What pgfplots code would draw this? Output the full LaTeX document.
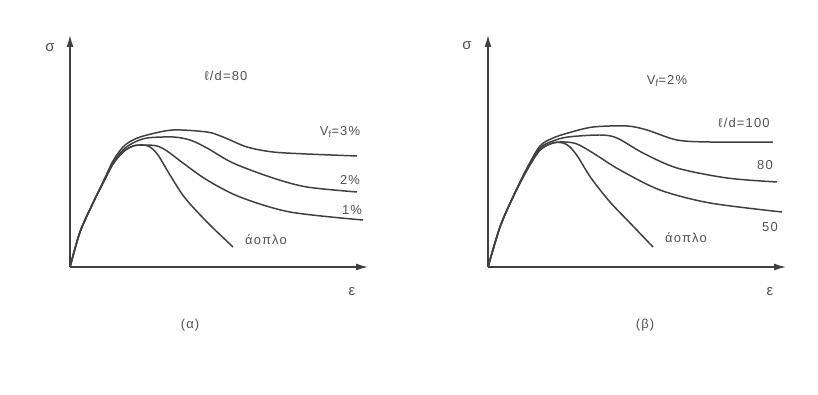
\documentclass[border=0pt]{standalone}
\usepackage{pgfplots}
\pgfplotsset{compat=1.18}
\usepackage{fontspec}
\setmainfont{Liberation Sans}
\newfontfamily\lab[LetterSpace=9]{Liberation Sans}
\usetikzlibrary{arrows.meta}
\definecolor{ink}{HTML}{404040}
\definecolor{txt}{HTML}{505050}
\pgfplotsset{
  panel/.style={
    scale only axis, width=298bp, height=232bp,
    xmin=0, xmax=298, ymin=0, ymax=232,
    axis x line=bottom, axis y line=left,
    xtick=\empty, ytick=\empty,
    axis line style={ink, line width=1.3pt, -{Latex[length=12bp,width=7bp]}},
    clip=false, no markers,
    every axis plot post/.append style={ink, line width=1.5pt, smooth, tension=0.5, mark=none},
  },
}
\tikzset{
  lbl/.style={txt, font=\lab\fontsize{13}{15}\selectfont},
  big/.style={txt, font=\fontsize{15}{17}\selectfont},
}
\begin{document}
\begin{tikzpicture}
\path[use as bounding box] (-70bp,-128bp) rectangle (748bp,267bp);
% ---------------- panel (a)
\begin{axis}[panel, at={(0bp,0bp)}, anchor=south west]
% aoplo
\addplot coordinates {(0,0) (10,35) (23,64) (33,84) (43,103) (53,115) (63,121) (73,122) (80,120) (88,112) (100,92) (115,69) (138,44) (163,20)};
% 1%
\addplot coordinates {(0,0) (10,35) (23,64) (33,84) (43,103) (53,115) (63,121) (75,122) (87,121) (97,116) (113,104) (137,87) (170,70) (220,55) (293,47)};
% 2%
\addplot coordinates {(0,0) (10,35) (23,64) (33,84) (43,104) (53,117) (63,124) (77,129) (103,130) (120,127) (137,119) (163,104) (203,89) (237,80) (287,75)};
% 3%
\addplot coordinates {(0,0) (10,35) (23,64) (33,85) (43,106) (53,120) (63,127) (77,132) (103,137) (137,135) (153,130) (177,120) (203,115) (237,113) (287,111)};
\node[lbl] at (axis cs:156,191) {ℓ/d=80};
\node[lbl] at (axis cs:270,135) {V$_{\mathrm f}$=3\%};
\node[lbl] at (axis cs:280,87) {2\%};
\node[lbl] at (axis cs:282,57) {1\%};
\node[lbl] at (axis cs:196,27) {άοπλο};
\node[big] at (axis cs:-20,219) {σ};
\node[big] at (axis cs:282,-25) {ε};
\node[lbl] at (axis cs:120,-58) {(α)};
\end{axis}
% ---------------- panel (b)
\begin{axis}[panel, at={(418bp,0bp)}, anchor=south west]
% aoplo
\addplot coordinates {(0,0) (12,40) (25,70) (39,97) (52,117) (65,124) (75,124) (82,120) (90,110) (103,89) (122,65) (143,43) (165,20)};
% 50
\addplot coordinates {(0,0) (12,40) (25,70) (39,97) (52,117) (65,124) (77,125) (89,123) (105,114) (132,97) (172,77) (222,64) (294,55)};
% 80
\addplot coordinates {(0,0) (12,40) (25,70) (39,98) (52,119) (65,126) (80,130) (112,132) (129,129) (155,114) (189,99) (239,89) (289,85)};
% 100
\addplot coordinates {(0,0) (12,40) (25,70) (39,99) (52,121) (65,129) (80,134) (105,140) (139,141) (159,137) (189,127) (222,125) (285,125)};
\node[lbl] at (axis cs:179,186) {V$_{\mathrm f}$=2\%};
\node[lbl] at (axis cs:256,144) {ℓ/d=100};
\node[lbl] at (axis cs:277,102) {80};
\node[lbl] at (axis cs:282,40) {50};
\node[lbl] at (axis cs:198,29) {άοπλο};
\node[big] at (axis cs:-21,221) {σ};
\node[big] at (axis cs:282,-25) {ε};
\node[lbl] at (axis cs:157,-58) {(β)};
\end{axis}
\end{tikzpicture}
\end{document}
